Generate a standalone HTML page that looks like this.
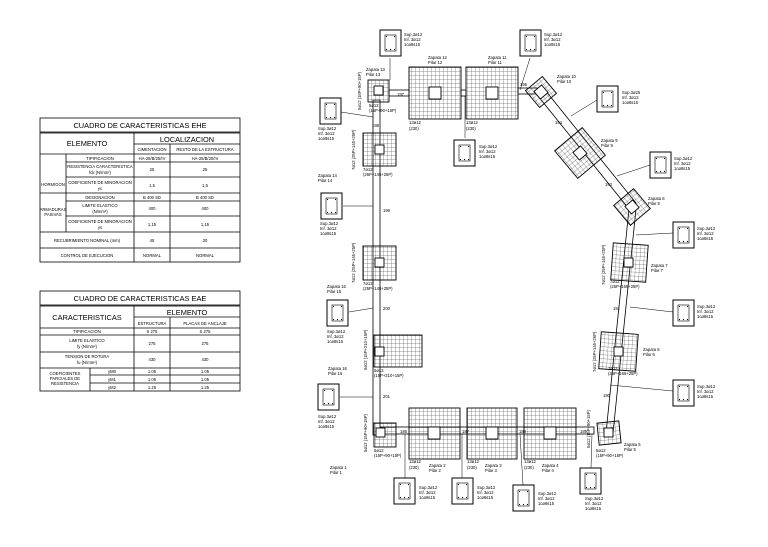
<!DOCTYPE html>
<html><head><meta charset="utf-8"><style>
body{margin:0;background:#fff}
svg{display:block}
text{font-family:"Liberation Sans",sans-serif;fill:#000}
.t{font-size:4.2px}
.s{font-size:4.6px}
.h{font-size:7.4px}
</style></head><body>
<svg width="768" height="547" viewBox="0 0 768 547" xmlns="http://www.w3.org/2000/svg">
<defs>
<pattern id="g" width="4" height="4" patternUnits="userSpaceOnUse"><path d="M4 0V4M0 4H4" stroke="#333" stroke-width="0.5" fill="none"/></pattern>
<g id="sec"><rect x="0" y="0" width="21" height="26" fill="#fff" stroke="#000" stroke-width="1"/><rect x="5" y="5" width="11" height="16" fill="none" stroke="#000" stroke-width="0.6"/><circle cx="6.5" cy="6.5" r="0.6"/><circle cx="14.5" cy="6.5" r="0.6"/><circle cx="6.5" cy="19.5" r="0.6"/><circle cx="10.5" cy="19.5" r="0.6"/><circle cx="14.5" cy="19.5" r="0.6"/></g>
</defs>
<rect width="768" height="547" fill="#fff"/>

<!-- TABLE 1 -->
<g stroke="#000" fill="none" stroke-width="0.8">
<rect x="40" y="118" width="200" height="14"/>
<rect x="40" y="133" width="200" height="129"/>
<line x1="134" y1="133" x2="134" y2="262"/>
<line x1="170" y1="144" x2="170" y2="262"/>
<line x1="134" y1="144" x2="240" y2="144"/>
<line x1="40" y1="154" x2="240" y2="154"/>
<line x1="66" y1="154" x2="66" y2="232"/>
<line x1="66" y1="162" x2="240" y2="162"/>
<line x1="66" y1="177" x2="240" y2="177"/>
<line x1="40" y1="193" x2="240" y2="193"/>
<line x1="66" y1="201" x2="240" y2="201"/>
<line x1="66" y1="216" x2="240" y2="216"/>
<line x1="40" y1="232" x2="240" y2="232"/>
<line x1="40" y1="248" x2="240" y2="248"/>
</g>
<g text-anchor="middle">
<text x="140" y="128" class="h">CUADRO  DE  CARACTERISTICAS      EHE</text>
<text x="87" y="146" class="h">ELEMENTO</text>
<text x="187" y="142" class="h">LOCALIZACION</text>
<text x="152" y="151" class="t">CIMENTACION</text>
<text x="205" y="151" class="t">RESTO DE LA ESTRUCTURA</text>
<text x="100" y="160" class="t">TIPIFICACION</text>
<text x="152" y="160" class="t">HA-25/B/25/IV</text>
<text x="205" y="160" class="t">HA-25/B/20/IV</text>
<text x="100" y="168" class="t">RESISTENCIA CARACTERISTICA</text>
<text x="100" y="174" class="t">fck (N/mm²)</text>
<text x="152" y="171" class="t">25</text><text x="205" y="171" class="t">25</text>
<text x="53" y="186" class="t">HORMIGON</text>
<text x="100" y="184" class="t">COEFICIENTE DE MINORACION</text>
<text x="100" y="190" class="t">γc</text>
<text x="152" y="187" class="t">1,5</text><text x="205" y="187" class="t">1,5</text>
<text x="100" y="199" class="t">DESIGNACION</text>
<text x="152" y="199" class="t">B 400 SD</text><text x="205" y="199" class="t">B 400 SD</text>
<text x="100" y="207" class="t">LIMITE ELASTICO</text>
<text x="100" y="213" class="t">(N/mm²)</text>
<text x="152" y="210" class="t">400</text><text x="205" y="210" class="t">400</text>
<text x="53" y="211" class="t">ARMADURAS</text><text x="53" y="216" class="t">PASIVAS</text>
<text x="100" y="223" class="t">COEFICIENTE DE MINORACION</text>
<text x="100" y="229" class="t">γs</text>
<text x="152" y="226" class="t">1,15</text><text x="205" y="226" class="t">1,15</text>
<text x="87" y="242" class="t">RECUBRIMIENTO NOMINAL (mm)</text>
<text x="152" y="242" class="t">45</text><text x="205" y="242" class="t">30</text>
<text x="87" y="257" class="t">CONTROL DE EJECUCION</text>
<text x="152" y="257" class="t">NORMAL</text><text x="205" y="257" class="t">NORMAL</text>
</g>

<!-- TABLE 2 -->
<g stroke="#000" fill="none" stroke-width="0.8">
<rect x="40" y="291" width="200" height="14"/>
<rect x="40" y="306" width="200" height="85"/>
<line x1="134" y1="306" x2="134" y2="391"/>
<line x1="170" y1="317" x2="170" y2="391"/>
<line x1="134" y1="317" x2="240" y2="317"/>
<line x1="40" y1="328" x2="240" y2="328"/>
<line x1="40" y1="335" x2="240" y2="335"/>
<line x1="40" y1="352" x2="240" y2="352"/>
<line x1="40" y1="368" x2="240" y2="368"/>
<line x1="90" y1="368" x2="90" y2="391"/>
<line x1="90" y1="375" x2="240" y2="375"/>
<line x1="90" y1="383" x2="240" y2="383"/>
</g>
<g text-anchor="middle">
<text x="140" y="301" class="h">CUADRO  DE  CARACTERISTICAS      EAE</text>
<text x="87" y="320" class="h">CARACTERISTICAS</text>
<text x="187" y="315" class="h">ELEMENTO</text>
<text x="152" y="325" class="t">ESTRUCTURA</text>
<text x="205" y="325" class="t">PLACAS DE ANCLAJE</text>
<text x="87" y="333" class="t">TIPIFICACION</text>
<text x="152" y="333" class="t">S 275</text><text x="205" y="333" class="t">S 275</text>
<text x="87" y="342" class="t">LIMITE ELASTICO</text><text x="87" y="348" class="t">fy (N/mm²)</text>
<text x="152" y="345" class="t">275</text><text x="205" y="345" class="t">275</text>
<text x="87" y="358" class="t">TENSION DE ROTURA</text><text x="87" y="364" class="t">fu (N/mm²)</text>
<text x="152" y="361" class="t">430</text><text x="205" y="361" class="t">430</text>
<text x="65" y="375" class="t">COEFICIENTES</text><text x="65" y="380" class="t">PARCIALES DE</text><text x="65" y="385" class="t">RESISTENCIA</text>
<text x="112" y="373" class="t">γM0</text><text x="112" y="381" class="t">γM1</text><text x="112" y="389" class="t">γM2</text>
<text x="152" y="373" class="t">1.05</text><text x="205" y="373" class="t">1.05</text>
<text x="152" y="381" class="t">1.05</text><text x="205" y="381" class="t">1.05</text>
<text x="152" y="389" class="t">1.25</text><text x="205" y="389" class="t">1.25</text>
</g>

<!-- BEAMS -->
<g stroke="#000" stroke-width="0.8" fill="#fff">
<rect x="373" y="100" width="7" height="335"/>
<rect x="389" y="90" width="20" height="6"/>
<rect x="461" y="90" width="5" height="6"/>
<rect x="518" y="88" width="22" height="6"/>
<rect x="380" y="427" width="214" height="7"/>
<polygon points="538,96 545,90 636,203 629,209"/>
<polygon points="629,209 636,209 613,433 606,433"/>
</g>

<!-- FOOTINGS -->
<g stroke="#000" stroke-width="0.9">
<rect x="368" y="80" width="21" height="22" fill="url(#g)"/>
<rect x="409" y="67" width="52" height="52" fill="url(#g)"/>
<rect x="466" y="67" width="52" height="52" fill="url(#g)"/>
<rect x="363" y="133" width="33" height="33" fill="url(#g)"/>
<rect x="363" y="246" width="33" height="34" fill="url(#g)"/>
<rect x="374" y="335" width="48" height="32" fill="url(#g)"/>
<rect x="374" y="423" width="22" height="24" fill="url(#g)"/>
<rect x="409" y="408" width="51" height="51" fill="url(#g)"/>
<rect x="467" y="408" width="50" height="51" fill="url(#g)"/>
<rect x="524" y="408" width="52" height="51" fill="url(#g)"/>
<rect x="598" y="422" width="22" height="22" fill="url(#g)" transform="rotate(-6 609 433)"/>
<rect x="600" y="333" width="37" height="37" fill="url(#g)" transform="rotate(4 618 351)"/>
<rect x="612" y="244" width="35" height="37" fill="url(#g)" transform="rotate(4 629 262)"/>
<rect x="619" y="194" width="26" height="26" fill="url(#g)" transform="rotate(-40 632 207)"/>
<rect x="562" y="135" width="36" height="36" fill="url(#g)" transform="rotate(-40 580 153)"/>
<rect x="530" y="81" width="22" height="22" fill="url(#g)" transform="rotate(-40 541 92)"/>
</g>
<!-- pillars -->
<g stroke="#000" stroke-width="0.9" fill="#fff">
<rect x="374" y="86" width="9" height="9"/>
<rect x="429" y="87" width="12" height="12"/>
<rect x="486" y="87" width="12" height="12"/>
<rect x="375" y="145" width="9" height="9"/>
<rect x="375" y="258" width="9" height="9"/>
<rect x="375" y="347" width="9" height="9"/>
<rect x="376" y="428" width="9" height="9"/>
<rect x="428" y="427" width="12" height="12"/>
<rect x="486" y="427" width="12" height="12"/>
<rect x="544" y="427" width="12" height="12"/>
<rect x="604" y="428" width="9" height="9"/>
<rect x="614" y="347" width="9" height="9"/>
<rect x="624" y="258" width="9" height="9"/>
<rect x="627" y="202" width="10" height="10" transform="rotate(-40 632 207)"/>
<rect x="575" y="148" width="10" height="10" transform="rotate(-40 580 153)"/>
<rect x="536" y="87" width="10" height="10" transform="rotate(-40 541 92)"/>
</g>

<!-- leader lines -->
<g stroke="#000" stroke-width="0.5">
<line x1="390" y1="58" x2="390" y2="80"/>
<line x1="530" y1="58" x2="520" y2="90"/>
<line x1="341" y1="112" x2="373" y2="117"/>
<line x1="465" y1="138" x2="465" y2="96"/>
<line x1="597" y1="100" x2="571" y2="116"/>
<line x1="650" y1="165" x2="617" y2="176"/>
<line x1="673" y1="233" x2="636" y2="235"/>
<line x1="673" y1="312" x2="630" y2="307"/>
<line x1="343" y1="206" x2="373" y2="206"/>
<line x1="349" y1="312" x2="373" y2="308"/>
<line x1="340" y1="397" x2="373" y2="397"/>
<line x1="405" y1="478" x2="405" y2="434"/>
<line x1="462" y1="478" x2="462" y2="434"/>
<line x1="523" y1="485" x2="520" y2="434"/>
<line x1="591" y1="468" x2="592" y2="434"/>
<line x1="673" y1="391" x2="610" y2="385"/>
</g>

<!-- section boxes -->
<use href="#sec" x="380" y="30"/>
<use href="#sec" x="520" y="30"/>
<use href="#sec" x="320" y="98"/>
<use href="#sec" x="454" y="140"/>
<use href="#sec" x="597" y="86"/>
<use href="#sec" x="650" y="152"/>
<use href="#sec" x="673" y="222"/>
<use href="#sec" x="673" y="300"/>
<use href="#sec" x="321" y="193"/>
<use href="#sec" x="327" y="300"/>
<use href="#sec" x="318" y="384"/>
<use href="#sec" x="394" y="478"/>
<use href="#sec" x="452" y="478"/>
<use href="#sec" x="513" y="485"/>
<use href="#sec" x="580" y="468"/>
<use href="#sec" x="673" y="380"/>

<g class="t">
<text x="404" y="36">Sup.3ø12</text><text x="404" y="41">Inf. 3ø12</text><text x="404" y="46">1cø8s15</text>
<text x="544" y="36">Sup.3ø12</text><text x="544" y="41">Inf. 3ø12</text><text x="544" y="46">1cø8s15</text>
<text x="318" y="130">Sup.3ø12</text><text x="318" y="135">Inf. 3ø12</text><text x="318" y="140">1cø8s15</text>
<text x="479" y="148">Sup.3ø12</text><text x="479" y="153">Inf. 3ø12</text><text x="479" y="158">1cø8s15</text>
<text x="622" y="94">Sup.3ø25</text><text x="622" y="99">Inf. 3ø12</text><text x="622" y="104">1cø8s15</text>
<text x="674" y="160">Sup.3ø12</text><text x="674" y="165">Inf. 3ø12</text><text x="674" y="170">1cø8s15</text>
<text x="697" y="230">Sup.3ø12</text><text x="697" y="235">Inf. 3ø12</text><text x="697" y="240">1cø8s15</text>
<text x="697" y="308">Sup.3ø12</text><text x="697" y="313">Inf. 3ø12</text><text x="697" y="318">1cø8s15</text>
<text x="697" y="388">Sup.3ø12</text><text x="697" y="393">Inf. 3ø12</text><text x="697" y="398">1cø8s15</text>
<text x="320" y="225">Sup.3ø12</text><text x="320" y="230">Inf. 3ø12</text><text x="320" y="235">1cø8s15</text>
<text x="327" y="333">Sup.3ø12</text><text x="327" y="338">Inf. 3ø12</text><text x="327" y="343">1cø8s15</text>
<text x="318" y="418">Sup.3ø12</text><text x="318" y="423">Inf. 3ø12</text><text x="318" y="428">1cø8s15</text>
<text x="419" y="489">Sup.3ø12</text><text x="419" y="494">Inf. 3ø12</text><text x="419" y="499">1cø8s15</text>
<text x="477" y="489">Sup.3ø12</text><text x="477" y="494">Inf. 3ø12</text><text x="477" y="499">1cø8s15</text>
<text x="538" y="495">Sup.3ø12</text><text x="538" y="500">Inf. 3ø12</text><text x="538" y="505">1cø8s15</text>
<text x="585" y="500">Sup.3ø12</text><text x="585" y="505">Inf. 3ø12</text><text x="585" y="510">1cø8s15</text>

<text x="366" y="71">Zapata   13</text><text x="366" y="76">Pilar   13</text>
<text x="428" y="59">Zapata   12</text><text x="428" y="64">Pilar   12</text>
<text x="488" y="59">Zapata   11</text><text x="488" y="64">Pilar   11</text>
<text x="557" y="78">Zapata   10</text><text x="557" y="83">Pilar   10</text>
<text x="601" y="142">Zapata   9</text><text x="601" y="147">Pilar   9</text>
<text x="648" y="200">Zapata   8</text><text x="648" y="205">Pilar   8</text>
<text x="651" y="267">Zapata   7</text><text x="651" y="272">Pilar   7</text>
<text x="643" y="351">Zapata   6</text><text x="643" y="356">Pilar   6</text>
<text x="624" y="446">Zapata   5</text><text x="624" y="451">Pilar   5</text>
<text x="542" y="467">Zapata   4</text><text x="542" y="472">Pilar   4</text>
<text x="485" y="467">Zapata   3</text><text x="485" y="472">Pilar   3</text>
<text x="429" y="467">Zapata   2</text><text x="429" y="472">Pilar   2</text>
<text x="330" y="469">Zapata   1</text><text x="330" y="474">Pilar   1</text>
<text x="328" y="370">Zapata   16</text><text x="328" y="375">Pilar   16</text>
<text x="327" y="288">Zapata   15</text><text x="327" y="293">Pilar   15</text>
<text x="318" y="177">Zapata   14</text><text x="318" y="182">Pilar   14</text>

<text x="369" y="107">5ø12</text><text x="369" y="112">(15P+90+15P)</text>
<text x="363" y="171">7ø12</text><text x="363" y="176">(25P+145+25P)</text>
<text x="363" y="285">7ø12</text><text x="363" y="290">(25P+145+25P)</text>
<text x="374" y="372">5ø12</text><text x="374" y="377">(15P+210+15P)</text>
<text x="374" y="452">5ø12</text><text x="374" y="457">(15P+90+15P)</text>
<text x="409" y="124">13ø12</text><text x="409" y="130">(230)</text>
<text x="466" y="124">13ø12</text><text x="466" y="130">(230)</text>
<text x="409" y="463">13ø12</text><text x="409" y="469">(230)</text>
<text x="467" y="463">13ø12</text><text x="467" y="469">(230)</text>
<text x="524" y="463">13ø12</text><text x="524" y="469">(230)</text>
<text x="596" y="452">5ø12</text><text x="596" y="457">(15P+90+15P)</text>
<text x="608" y="370">7ø12</text><text x="608" y="375">(25P+165+25P)</text>
<text x="610" y="283">7ø12</text><text x="610" y="288">(25P+165+25P)</text>
<text x="397" y="96">197</text><text x="372" y="127">198</text><text x="383" y="212">199</text>
<text x="383" y="310">200</text><text x="383" y="398">201</text>
<text x="400" y="433">186</text><text x="462" y="433">187</text><text x="519" y="433">188</text><text x="580" y="433">189</text>
<text x="603" y="397">190</text><text x="613" y="310">191</text><text x="605" y="186">193</text>
<text x="555" y="124">194</text><text x="520" y="86">195</text>

<text transform="translate(361,110) rotate(-90)">5ø12 (15P+90+15P)</text>
<text transform="translate(355,170) rotate(-90)">7ø12 (25P+145+25P)</text>
<text transform="translate(355,283) rotate(-90)">7ø12 (25P+145+25P)</text>
<text transform="translate(367,370) rotate(-90)">5ø12 (15P+210+15P)</text>
<text transform="translate(367,452) rotate(-90)">5ø12 (15P+90+15P)</text>
<text transform="translate(605,285) rotate(-90)">7ø12 (25P+145+25P)</text>
<text transform="translate(596,372) rotate(-90)">7ø12 (25P+145+25P)</text>
<text transform="translate(590,448) rotate(-90)">5ø12 (15P+90+15P)</text>
</g>
</svg>
</body></html>
